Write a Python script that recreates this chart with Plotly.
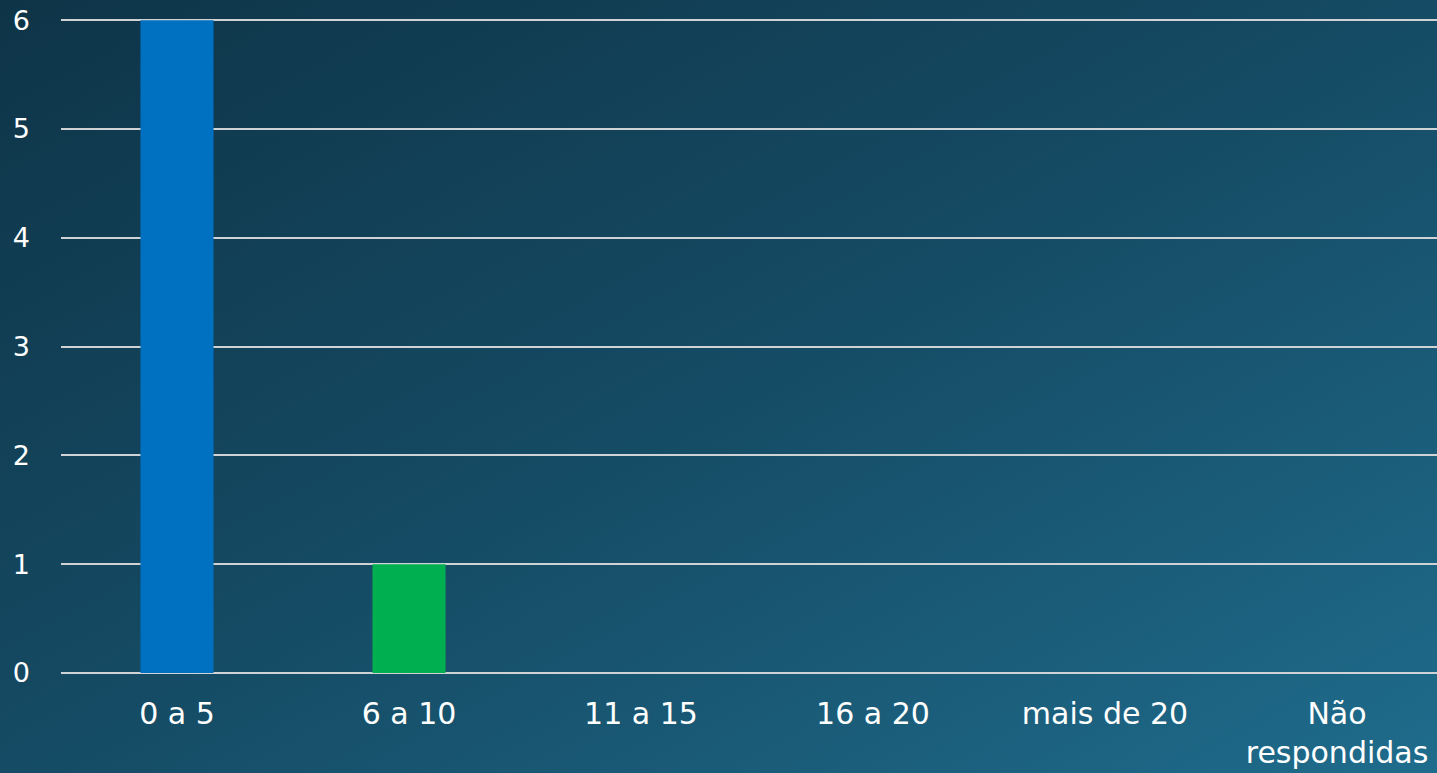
import base64
import plotly.graph_objects as go

categories = ["0 a 5", "6 a 10", "11 a 15", "16 a 20", "mais de 20", "Não<br>respondidas"]
values = [6, 1, 0, 0, 0, 0]
bar_colors = ["#0070C0", "#00B050", "#0070C0", "#0070C0", "#0070C0", "#0070C0"]
y_ticks = [0, 1, 2, 3, 4, 5, 6]
y_max = 6.02

VIEW_W = 1437
W, H = 1453, 773
L, T, B = 61, 18, 100

svg = f'''<svg xmlns="http://www.w3.org/2000/svg" width="{VIEW_W}" height="{H}" viewBox="0 0 {VIEW_W} {H}" preserveAspectRatio="none">
<defs><linearGradient id="g" x1="0" y1="0" x2="1" y2="1">
<stop offset="0" stop-color="#0e3447"/>
<stop offset="0.5" stop-color="#154b64"/>
<stop offset="1" stop-color="#1f6c8c"/>
</linearGradient></defs>
<rect x="0" y="0" width="{VIEW_W}" height="{H}" fill="url(#g)"/>
</svg>'''
bg_uri = "data:image/svg+xml;base64," + base64.b64encode(svg.encode()).decode()

font_family = "DejaVu Sans, sans-serif"

fig = go.Figure()
fig.add_trace(go.Bar(
    x=categories,
    y=values,
    marker=dict(color=bar_colors, line=dict(width=0)),
    hoverinfo="x+y",
))

pw, ph = W - L, H - T - B
fig.update_layout(
    width=W,
    height=H,
    margin=dict(l=L, r=0, t=T, b=B),
    paper_bgcolor="#1f6c8c",
    plot_bgcolor="rgba(0,0,0,0)",
    bargap=0.685,
    showlegend=False,
    font=dict(family=font_family, color="#ffffff", size=28),
    images=[dict(
        source=bg_uri, xref="paper", yref="paper",
        x=-L / pw, y=1 + T / ph,
        sizex=VIEW_W / pw, sizey=H / ph,
        xanchor="left", yanchor="top", sizing="stretch", layer="below",
    )],
    xaxis=dict(
        showgrid=False, zeroline=False, showline=False,
        ticks="", ticklabelstandoff=20,
        tickfont=dict(size=30, color="#ffffff"),
    ),
    yaxis=dict(
        range=[0, y_max], tickvals=y_ticks,
        showgrid=True, gridcolor="#cfd3d5", gridwidth=2,
        zeroline=True, zerolinecolor="#cfd3d5", zerolinewidth=2,
        showline=False, ticks="", ticklabelstandoff=30,
        tickfont=dict(size=27, color="#ffffff"),
    ),
)

fig.write_html(
    "out.html",
    config={"displayModeBar": False},
    post_script="document.body.style.margin='0';document.body.style.overflow='hidden';",
)
